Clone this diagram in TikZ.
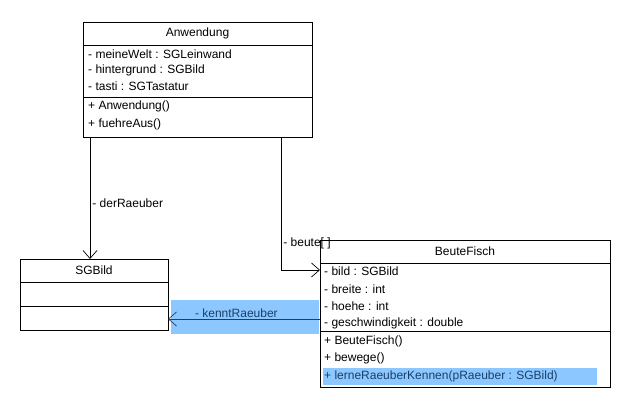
\documentclass[tikz,border=0pt]{standalone}
\usepackage{fontspec}
\setmainfont{Liberation Sans}
\usetikzlibrary{arrows.meta,positioning}
\definecolor{hilite}{HTML}{8CC8FF}
\definecolor{hitext}{HTML}{1A3F6A}
\begin{document}
\begin{tikzpicture}[x=1pt,y=-1pt,
    box/.style={draw,line width=0.8pt,inner sep=0pt,anchor=north west},
    row/.style={anchor=west,inner sep=0pt,font=\fontsize{12}{14}\selectfont},
    title/.style={inner sep=0pt,font=\fontsize{12}{14}\selectfont},
    assoc/.style={-{Straight Barb[length=8pt,width=14pt]},line width=0.7pt}]
    \useasboundingbox (0,0) rectangle (630,410);

    % Anwendung
    \node[box,minimum width=229pt,minimum height=115pt] (anw) at (83,22) {};
    \draw[line width=0.8pt] (83,45) -- (312,45) (83,97) -- (312,97);
    \node[title] (anwT) at (197.5,33.5) {Anwendung};
    \foreach \y/\t in {54/- meineWelt : SGLeinwand,70/- hintergrund : SGBild,86/- tasti : SGTastatur,
                       106/+ Anwendung(),124/+ fuehreAus()}
        \node[row] at (88,\y) {\t};

    % SGBild
    \node[box,minimum width=148pt,minimum height=71pt] (bild) at (20,259) {};
    \draw[line width=0.8pt] (20,282) -- (168,282) (20,306) -- (168,306);
    \node[title] (bildT) at (94,270.5) {SGBild};

    % BeuteFisch
    \node[box,minimum width=290pt,minimum height=147pt] (fisch) at (320,240) {};
    \fill[hilite] (323,368) rectangle (597,385);
    \draw[line width=0.8pt] (320,263) -- (610,263) (320,331) -- (610,331);
    \node[title] (fischT) at (465,251.5) {BeuteFisch};
    \foreach \y/\t in {271/- bild : SGBild,289/- breite : int,306/- hoehe : int,323/- geschwindigkeit : double,
                       341/+ BeuteFisch(),358/+ bewege()}
        \node[row] at (324,\y) {\t};
    \node[row,text=hitext] at (324,376) {+ lerneRaeuberKennen(pRaeuber : SGBild)};

    % Assoziationen
    \coordinate (a1) at (90,137);
    \coordinate (b1) at (90,259);
    \draw[assoc] (a1) -- (b1) node[pos=0.54,right=2pt,title] {- derRaeuber};
    \coordinate (a2) at (281,137);
    \coordinate (f2) at (320,270);
    \draw[assoc] (a2) |- (f2) node[pos=0.4,right=2pt,title] {- beute[ ]};
    \fill[hilite] (171,300) rectangle (319,334);
    \coordinate (f3) at (320,319);
    \coordinate (b3) at (168,319);
    \draw[assoc,draw=hitext] (f3) -- (b3) node[pos=0.55,above=1pt,title,text=hitext] {- kenntRaeuber};
\end{tikzpicture}
\end{document}
